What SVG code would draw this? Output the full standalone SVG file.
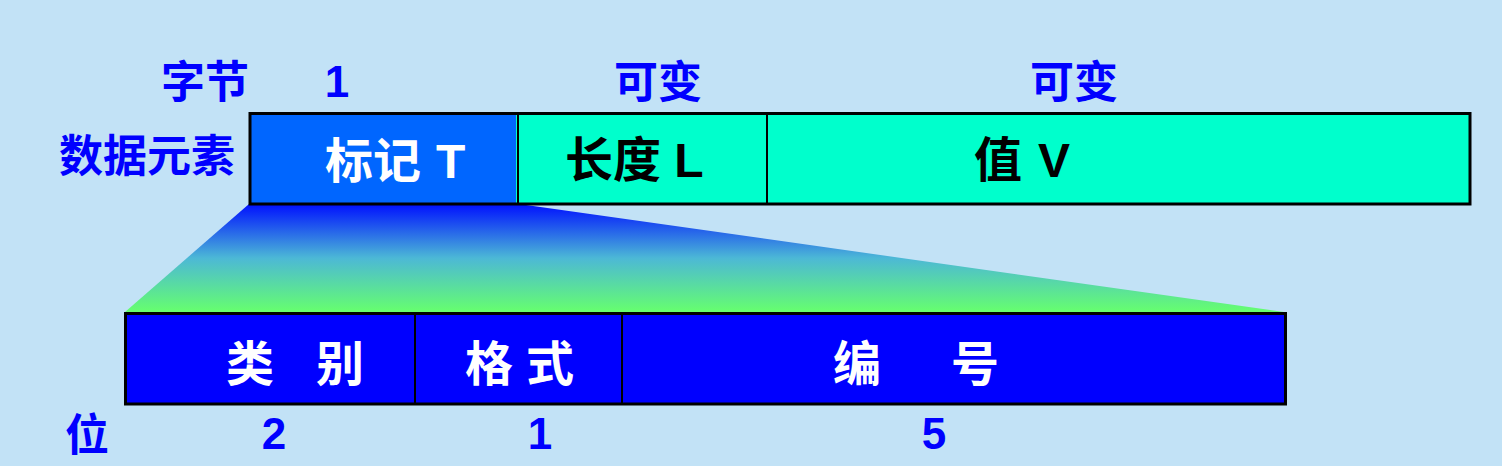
<svg xmlns="http://www.w3.org/2000/svg" width="1502" height="466" viewBox="0 0 1502 466">
  <style>
    .lbl { font-family: "Liberation Sans", "Noto Sans CJK SC", sans-serif; font-weight: bold; font-size: 44px; fill: #0000ff; }
    .cell { font-family: "Liberation Sans", "Noto Sans CJK SC", sans-serif; font-weight: bold; font-size: 48px; }
    .white { fill: #ffffff; }
    .black { fill: #000000; }
    .frame { fill: none; stroke: #000000; stroke-width: 3; }
    .div { stroke: #000000; stroke-width: 2; }
  </style>
  <defs>
    <linearGradient id="zoomGrad" x1="0" y1="0" x2="0" y2="1">
      <stop offset="0" stop-color="#0010ff"/>
      <stop offset="0.5" stop-color="#4cb8d6"/>
      <stop offset="1" stop-color="#66ff6e"/>
    </linearGradient>
  </defs>
  <rect x="0" y="0" width="1502" height="466" fill="#c2e2f6"/>

  <g id="connectors">
    <polygon points="249,204 519,204 1284,312 125,312" fill="url(#zoomGrad)"/>
  </g>

  <g id="labels-top">
    <text class="lbl" x="161" y="98">字节</text>
    <text class="lbl" x="337" y="97" text-anchor="middle">1</text>
    <text class="lbl" x="658" y="98" text-anchor="middle">可变</text>
    <text class="lbl" x="1074" y="98" text-anchor="middle">可变</text>
    <text class="lbl" x="59" y="172">数据元素</text>
  </g>

  <g id="node-tag">
    <rect x="250" y="113.5" width="266" height="90.5" fill="#0066ff"/>
    <text class="cell white" x="325 373 421 436" y="178">标记 T</text>
  </g>
  <g id="node-length">
    <rect x="516" y="113.5" width="251" height="90.5" fill="#00ffcc"/>
    <text class="cell black" x="565" y="177">长度 L</text>
  </g>
  <g id="node-value">
    <rect x="767" y="113.5" width="703" height="90.5" fill="#00ffcc"/>
    <text class="cell black" x="974 1022 1038" y="177">值 V</text>
  </g>
  <g id="top-frame">
    <rect class="frame" x="250" y="113.5" width="1220" height="90.5"/>
    <line class="div" x1="518" y1="113.5" x2="518" y2="204"/>
    <line class="div" x1="767" y1="113.5" x2="767" y2="204"/>
  </g>

  <g id="node-class">
    <rect x="125.5" y="313.5" width="290" height="90.5" fill="#0000ff"/>
    <text class="cell white" x="226 274 316" y="381">类 别</text>
  </g>
  <g id="node-format">
    <rect x="415" y="313.5" width="207" height="90.5" fill="#0000ff"/>
    <text class="cell white" x="465 526" y="381">格式</text>
  </g>
  <g id="node-number">
    <rect x="622" y="313.5" width="663.5" height="90.5" fill="#0000ff"/>
    <text class="cell white" x="833 881 951" y="381">编 号</text>
  </g>
  <g id="bottom-frame">
    <rect class="frame" x="125.5" y="313.5" width="1160" height="90.5"/>
    <line class="div" x1="415" y1="313.5" x2="415" y2="404"/>
    <line class="div" x1="622" y1="313.5" x2="622" y2="404"/>
  </g>

  <g id="labels-bottom">
    <text class="lbl" x="65" y="451">位</text>
    <text class="lbl" x="274" y="449" text-anchor="middle">2</text>
    <text class="lbl" x="540" y="449" text-anchor="middle">1</text>
    <text class="lbl" x="934" y="449" text-anchor="middle">5</text>
  </g>
</svg>
